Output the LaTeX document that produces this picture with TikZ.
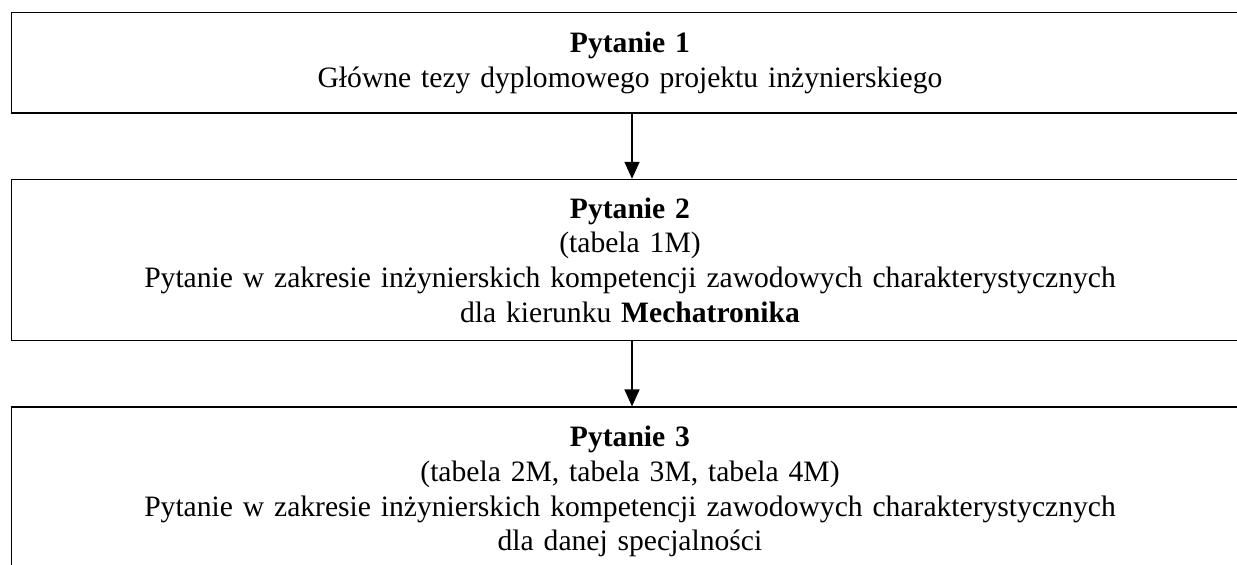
\documentclass[tikz,border=0pt]{standalone}
\usepackage{fontspec}
\setmainfont{Liberation Serif}
\usetikzlibrary{arrows.meta,positioning}

\begin{document}
\begin{tikzpicture}[x=0.5pt,y=-0.5pt,
        qbox/.style={draw,line width=0.8pt,minimum width=618.5pt,text width=600pt,
            align=center,inner sep=0pt,font=\fontsize{14.8pt}{17.35pt}\selectfont},
        qarrow/.style={line width=0.8pt,-{Triangle[width=7.5pt,length=8.5pt]}}]
        \useasboundingbox (0,0) rectangle (1237,565);

        % Boxes
        \node[qbox,minimum height=50.25pt] (q1) at (630,62.75)
            {\textbf{Pytanie 1}\\Główne tezy dyplomowego projektu inżynierskiego};
        \node[qbox,minimum height=80.5pt,below=32.5pt of q1] (q2)
            {\textbf{Pytanie 2}\\(tabela 1M)\\Pytanie w zakresie inżynierskich kompetencji zawodowych charakterystycznych\\dla kierunku \textbf{Mechatronika}};
        \node[qbox,minimum height=84.5pt,below=32.5pt of q2] (q3)
            {\textbf{Pytanie 3}\\(tabela 2M, tabela 3M, tabela 4M)\\Pytanie w zakresie inżynierskich kompetencji zawodowych charakterystycznych\\dla danej specjalności};

        % Arrows
        \draw[qarrow] ([xshift=1pt]q1.south) -- ([xshift=1pt]q2.north);
        \draw[qarrow] ([xshift=1pt]q2.south) -- ([xshift=1pt]q3.north);
\end{tikzpicture}
\end{document}
